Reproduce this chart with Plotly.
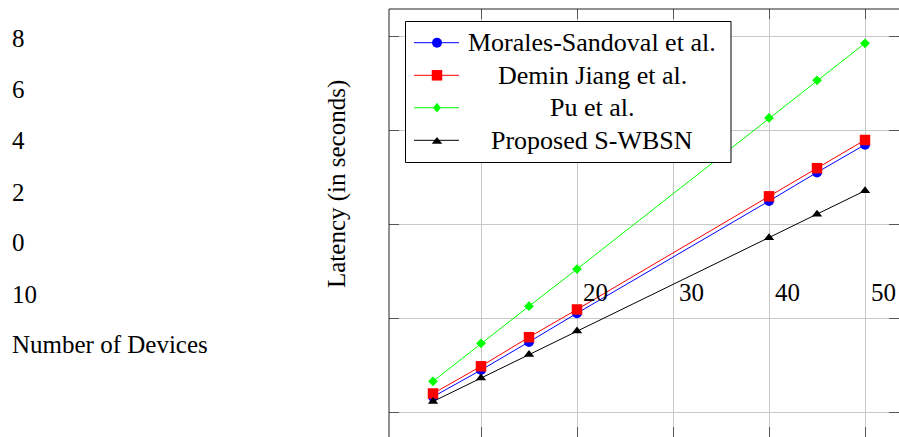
import plotly.graph_objects as go

# ---- data ----
devices = [5, 10, 15, 20, 40, 45, 50]
morales_sandoval = [0.33, 0.90, 1.50, 2.11, 4.50, 5.11, 5.70]
demin_jiang = [0.40, 0.98, 1.60, 2.19, 4.60, 5.20, 5.80]
pu = [0.66, 1.47, 2.26, 3.05, 6.27, 7.07, 7.86]
proposed = [0.23, 0.73, 1.23, 1.73, 3.72, 4.22, 4.72]

series_names = ["Morales-Sandoval et al.", "Demin Jiang et al.", "Pu et al.", "Proposed S-WBSN"]
x_tick_vals = [10, 20, 30, 40, 50]
y_tick_vals = [0, 2, 4, 6, 8]
x_tick_labels = ["10", "20", "30", "40", "50"]
y_tick_labels = ["8", "6", "4", "2", "0"]
x_title = "Number of Devices"
y_title = "Latency (in seconds)"

# ---- layout geometry (pixels) ----
W, H = 899, 437
L, T = 389, 9
PW, PH = W - L, H - T


def px(x):
    return (x - L) / PW


def py(y):
    return (H - y) / PH


colors = ["#0000ff", "#ff0000", "#00ff00", "#000000"]
symbols = ["circle", "square", "diamond", "triangle-up"]
sizes = [10, 10.5, 7.5, 9]
data = [morales_sandoval, demin_jiang, pu, proposed]

fig = go.Figure()
for name, ys, c, s, sz in zip(series_names, data, colors, symbols, sizes):
    fig.add_trace(go.Scatter(
        x=devices, y=ys, name=name, mode="lines+markers",
        line=dict(color=c, width=1),
        marker=dict(symbol=s, size=sz, color=c, line=dict(width=0)),
        showlegend=False,
    ))

serif = "Liberation Serif"
shapes = []
annotations = []

# axis border (left & top)
shapes.append(dict(type="line", xref="paper", yref="paper", x0=0, x1=0, y0=0, y1=1,
                   line=dict(color="#222222", width=1), layer="above"))
shapes.append(dict(type="line", xref="paper", yref="paper", x0=0, x1=1, y0=1, y1=1,
                   line=dict(color="#222222", width=1), layer="above"))

# manual legend
lx0, lx1, ly0, ly1 = 405.5, 731, 21.5, 162.5
shapes.append(dict(type="rect", xref="paper", yref="paper",
                   x0=px(lx0), x1=px(lx1), y0=py(ly1), y1=py(ly0),
                   line=dict(color="black", width=1), fillcolor="white", layer="above"))
rows = [42.7, 75.3, 107.7, 140.3]
mx = 437
for i, (name, c, r) in enumerate(zip(series_names, colors, rows)):
    shapes.append(dict(type="line", xref="paper", yref="paper",
                       x0=px(414), x1=px(459), y0=py(r), y1=py(r),
                       line=dict(color=c, width=1), layer="above"))
    if i == 0:
        shapes.append(dict(type="circle", xref="paper", yref="paper",
                           x0=px(mx - 5), x1=px(mx + 5), y0=py(r + 5), y1=py(r - 5),
                           line=dict(width=0), fillcolor=c, layer="above"))
    elif i == 1:
        shapes.append(dict(type="rect", xref="paper", yref="paper",
                           x0=px(mx - 5.25), x1=px(mx + 5.25), y0=py(r + 5.25), y1=py(r - 5.25),
                           line=dict(width=0), fillcolor=c, layer="above"))
    elif i == 2:
        d = 4.9
        path = "M{},{} L{},{} L{},{} L{},{} Z".format(
            px(mx), py(r - d), px(mx + d * 0.8), py(r), px(mx), py(r + d), px(mx - d * 0.8), py(r))
        shapes.append(dict(type="path", xref="paper", yref="paper", path=path,
                           line=dict(width=0), fillcolor=c, layer="above"))
    else:
        path = "M{},{} L{},{} L{},{} Z".format(
            px(mx - 5.2), py(r + 3.4), px(mx + 5.2), py(r + 3.4), px(mx), py(r - 3.4))
        shapes.append(dict(type="path", xref="paper", yref="paper", path=path,
                           line=dict(width=0), fillcolor=c, layer="above"))
    annotations.append(dict(x=px(592), y=py(r), xref="paper", yref="paper", text=name,
                            showarrow=False, xanchor="center", yanchor="middle",
                            font=dict(family=serif, size=26, color="black")))

# displaced tick labels (left column)
left_rows = [39, 89.5, 140, 192, 242.5]
for lab, yy in zip(y_tick_labels, left_rows):
    annotations.append(dict(x=px(10), y=py(yy), xref="paper", yref="paper", text=lab,
                            showarrow=False, xanchor="left", yanchor="middle",
                            font=dict(family=serif, size=25, color="black")))
annotations.append(dict(x=px(10), y=py(294), xref="paper", yref="paper", text=x_tick_labels[0],
                        showarrow=False, xanchor="left", yanchor="middle",
                        font=dict(family=serif, size=25, color="black")))
annotations.append(dict(x=px(10), y=py(344), xref="paper", yref="paper", text=x_title,
                        showarrow=False, xanchor="left", yanchor="middle",
                        font=dict(family=serif, size=25, color="black")))
for lab, xx in zip(x_tick_labels[1:], [595, 691, 787, 883]):
    annotations.append(dict(x=px(xx), y=py(292), xref="paper", yref="paper", text=lab,
                            showarrow=False, xanchor="center", yanchor="middle",
                            font=dict(family=serif, size=25, color="black")))

# y title
annotations.append(dict(x=px(337), y=py(184), xref="paper", yref="paper", text=y_title,
                        showarrow=False, textangle=-90, xanchor="center", yanchor="middle",
                        font=dict(family=serif, size=25, color="black")))

fig.update_layout(
    width=W, height=H, autosize=False,
    margin=dict(l=L, r=0, t=T, b=0, pad=0),
    paper_bgcolor="white", plot_bgcolor="white",
    shapes=shapes, annotations=annotations,
    showlegend=False,
    xaxis=dict(range=[0.417, 53.54], tickvals=x_tick_vals, showticklabels=False,
               showgrid=True, gridcolor="#c8c8c8", gridwidth=1, zeroline=False,
               showline=False, ticks="inside", ticklen=10, tickcolor="#555555",
               tickwidth=1, mirror="ticks"),
    yaxis=dict(range=[-0.526, 8.59], tickvals=y_tick_vals, showticklabels=False,
               showgrid=True, gridcolor="#c8c8c8", gridwidth=1, zeroline=False,
               showline=False, ticks="inside", ticklen=10, tickcolor="#555555",
               tickwidth=1, mirror="ticks"),
)

fig.write_html("out.html")
